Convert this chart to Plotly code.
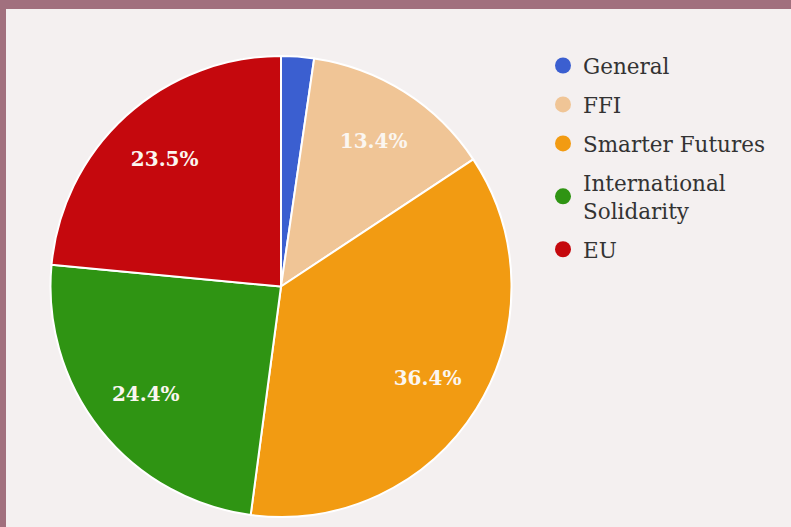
import plotly.graph_objects as go

labels = ["General", "FFI", "Smarter Futures", "International Solidarity", "EU"]
legend_labels = ["General", "FFI", "Smarter Futures", "International<br>Solidarity", "EU"]
values = [2.3, 13.4, 36.4, 24.4, 23.5]
colors = ["#3b5fd0", "#f0c596", "#f29b12", "#2f9413", "#c5080d"]
show_text = [False, True, True, True, True]

W, H = 791, 527
bg = "#f4f0f0"
border = "#a1707e"
font_family = "DejaVu Serif"

pie_domain = dict(x=[50 / W, 512 / W], y=[1 - 517 / H, 1 - 56 / H])
texttemplates = ["%{percent:.1%}" if s else "" for s in show_text]

fig = go.Figure()
fig.add_trace(go.Pie(
    labels=labels, values=values, sort=False, direction="clockwise", rotation=0,
    marker=dict(colors=colors, line=dict(color="white", width=2)),
    textinfo="none", showlegend=False, hoverinfo="label+percent",
    domain=pie_domain,
))
# transparent ring used only to place the percentage labels further out
fig.add_trace(go.Pie(
    labels=labels, values=values, sort=False, direction="clockwise", rotation=0,
    hole=0.5,
    marker=dict(colors=["rgba(0,0,0,0)"] * len(values), line=dict(width=0)),
    texttemplate=texttemplates, textposition="inside", insidetextorientation="horizontal",
    textfont=dict(family=font_family, size=20, color="#fbf6f0", weight="bold"),
    showlegend=False, hoverinfo="skip",
    domain=pie_domain,
))

for i, (lab, col) in enumerate(zip(legend_labels, colors)):
    fig.add_trace(go.Scatter(
        x=[None], y=[None], mode="markers", name=lab,
        marker=dict(symbol="circle", size=22, color=col),
        legendgroup=str(i), showlegend=True,
    ))

fig.update_layout(
    width=W, height=H,
    margin=dict(l=0, r=0, t=0, b=0),
    paper_bgcolor=border, plot_bgcolor="rgba(0,0,0,0)",
    xaxis=dict(visible=False), yaxis=dict(visible=False),
    legend=dict(x=543 / W, y=1 - 45 / H, xanchor="left", yanchor="top",
                font=dict(family=font_family, size=21.5, color="#333333"),
                bgcolor="rgba(0,0,0,0)", traceorder="grouped", tracegroupgap=8,
                itemsizing="trace"),
    shapes=[dict(type="rect", xref="paper", yref="paper",
                 x0=6 / W, x1=1, y0=0, y1=1 - 9 / H,
                 fillcolor=bg, line=dict(width=0), layer="below")],
)

fig.write_html("out.html", config={"displayModeBar": False},
               post_script="document.body.style.margin='0';document.body.style.overflow='hidden';")
